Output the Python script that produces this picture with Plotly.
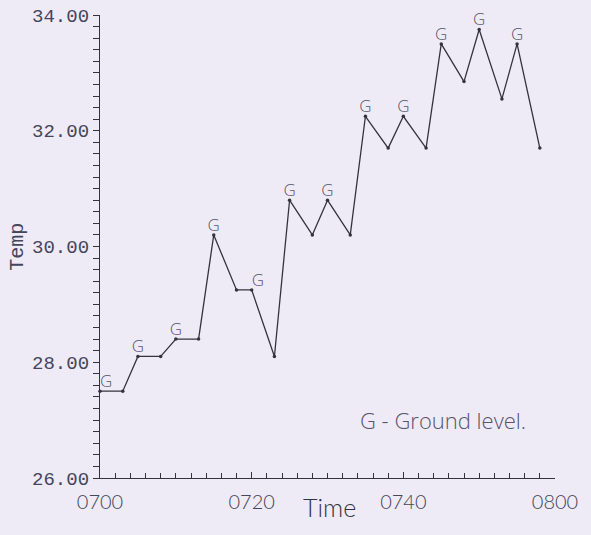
import plotly.graph_objects as go

# minutes after 07:00
minutes = [0, 3, 5, 8, 10, 13, 15, 18, 20, 23, 25, 28, 30, 33, 35, 38, 40, 43, 45, 48, 50, 53, 55, 58]
temps = [27.5, 27.5, 28.1, 28.1, 28.4, 28.4, 30.2, 29.25, 29.25, 28.1, 30.8, 30.2, 30.8, 30.2,
         32.25, 31.7, 32.25, 31.7, 33.5, 32.85, 33.75, 32.55, 33.5, 31.7]
ground = [True, False, True, False, True, False, True, False, True, False, True, False, True, False,
          True, False, True, False, True, False, True, False, True, False]

x_tickvals = [0, 20, 40, 60]
x_ticktext = ["0700", "0720", "0740", "0800"]
y_tickvals = [26, 28, 30, 32, 34]
y_ticktext = ["26.00", "28.00", "30.00", "32.00", "34.00"]

ink = "#33333f"
label_ink = "#45455c"
soft = "#55556a"
bg = "#eeebf6"

gx = [m for m, g in zip(minutes, ground) if g]
gy = [t for t, g in zip(temps, ground) if g]
gpos = ["top right" if (i == 0 or m == 20) else "top center" for i, m in enumerate(gx)]

fig = go.Figure()
fig.add_trace(go.Scatter(
    x=minutes, y=temps, mode="lines+markers",
    line=dict(color=ink, width=1.3),
    marker=dict(color=ink, size=3.5),
    cliponaxis=False, showlegend=False, hoverinfo="skip",
))
fig.add_trace(go.Scatter(
    x=gx, y=gy, mode="text", text=["G"] * len(gx), textposition=gpos,
    textfont=dict(family="Open Sans", size=17, color=soft, weight=300),
    cliponaxis=False, showlegend=False, hoverinfo="skip",
))

fig.add_annotation(x=34.0, y=27.0, xref="x", yref="y", xanchor="left", yanchor="middle",
                   text="G - Ground level.", showarrow=False,
                   font=dict(family="Open Sans", size=22, color=soft, weight=300))
fig.add_annotation(x=0.505, y=-0.062, xref="paper", yref="paper", xanchor="center", yanchor="middle",
                   text="Time", showarrow=False,
                   font=dict(family="Lato", size=25, color=ink, weight=300))
fig.add_annotation(x=-0.182, y=0.5, xref="paper", yref="paper", xanchor="center", yanchor="middle",
                   text="Temp", showarrow=False, textangle=-90,
                   font=dict(family="Liberation Mono", size=20, color=label_ink))

fig.update_xaxes(
    range=[0, 60], tickvals=x_tickvals, ticktext=x_ticktext, automargin=False,
    showline=True, linecolor=ink, linewidth=1.3, showgrid=False, zeroline=False,
    ticks="inside", ticklen=6, tickcolor=ink, tickwidth=1.2,
    minor=dict(dtick=2, ticks="inside", ticklen=5, tickcolor=ink, tickwidth=1.2, showgrid=False),
    tickfont=dict(family="Lato", size=20, color=label_ink, weight=300),
    ticklabelstandoff=6,
)
fig.update_yaxes(
    range=[26, 34], tickvals=y_tickvals, ticktext=y_ticktext, automargin=False,
    showline=True, linecolor=ink, linewidth=1.3, showgrid=False, zeroline=False,
    ticks="outside", ticklen=6, tickcolor=ink, tickwidth=1.2,
    minor=dict(dtick=0.2, ticks="outside", ticklen=6, tickcolor=ink, tickwidth=1.2, showgrid=False),
    tickfont=dict(family="Liberation Mono", size=19, color=label_ink),
)
fig.update_layout(
    width=591, height=535,
    margin=dict(l=100, r=36, t=15, b=57),
    paper_bgcolor=bg, plot_bgcolor=bg,
)
fig.write_html("out.html", config={"displayModeBar": False},
               post_script="document.body.style.margin='0';document.body.style.overflow='hidden';")
